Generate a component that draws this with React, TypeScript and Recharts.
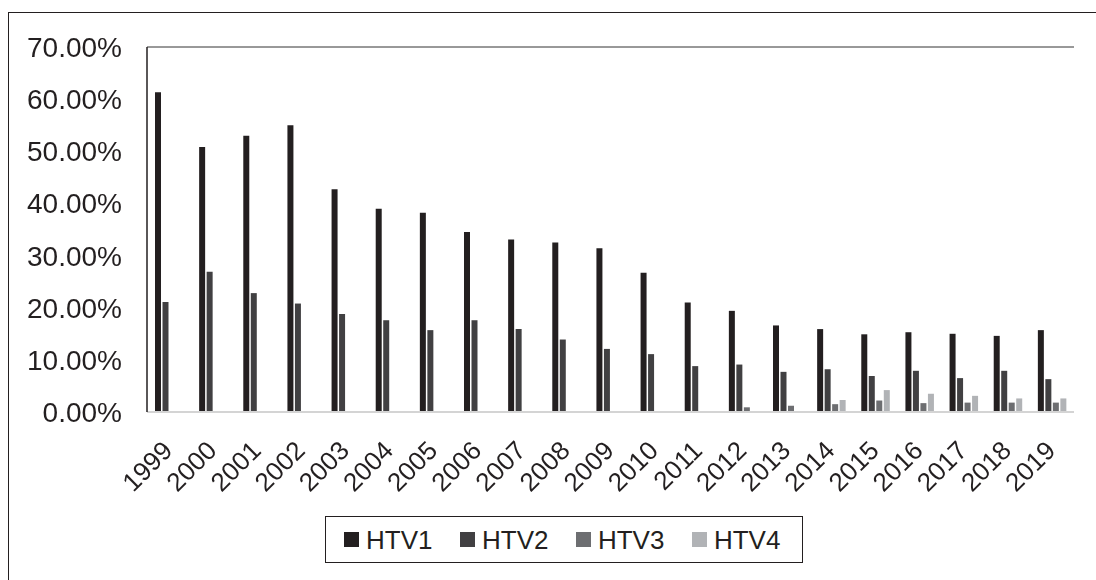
import React from 'react';
import { BarChart, Bar, XAxis, YAxis, CartesianGrid, Legend } from 'recharts';

// Share of each HTV band per year, in percent
const years = ['1999', '2000', '2001', '2002', '2003', '2004', '2005', '2006', '2007', '2008', '2009', '2010', '2011', '2012', '2013', '2014', '2015', '2016', '2017', '2018', '2019'];
const htv1 = [61.3, 50.8, 53.0, 55.0, 42.7, 39.0, 38.2, 34.5, 33.1, 32.5, 31.4, 26.7, 21.0, 19.4, 16.6, 15.9, 14.9, 15.3, 15.0, 14.6, 15.7];
const htv2 = [21.1, 26.9, 22.8, 20.8, 18.8, 17.6, 15.7, 17.6, 15.9, 13.9, 12.1, 11.1, 8.8, 9.1, 7.7, 8.2, 6.9, 7.9, 6.5, 7.9, 6.3];
const htv3 = [null, null, null, null, null, null, null, null, null, null, null, null, null, 0.9, 1.2, 1.5, 2.2, 1.7, 1.8, 1.8, 1.8];
const htv4 = [null, null, null, null, null, null, null, null, null, null, null, null, null, null, null, 2.3, 4.2, 3.5, 3.1, 2.6, 2.6];
const yTicks = [0, 10, 20, 30, 40, 50, 60, 70];

const data = years.map((year, i) => ({
  year,
  HTV1: htv1[i],
  HTV2: htv2[i],
  HTV3: htv3[i],
  HTV4: htv4[i],
}));

const FONT = '"Liberation Sans", Arial, sans-serif';
const INK = '#231f20';

const YearTick = (props: any) => {
  const { x, y, payload } = props;
  return (
    <g transform={`translate(${x + 5},${y + 40}) rotate(-45)`}>
      <text x={0} y={0} textAnchor="end" fill={INK} fontSize={26} fontFamily={FONT}>
        {payload.value}
      </text>
    </g>
  );
};

const LegendBox = (props: any) => {
  const { payload } = props;
  return (
    <div
      style={{
        boxSizing: 'border-box',
        width: 478,
        height: 47,
        border: `1.5px solid ${INK}`,
        display: 'flex',
        alignItems: 'center',
        paddingLeft: 18,
        fontFamily: FONT,
        fontSize: 26,
        color: INK,
        background: '#fff',
      }}
    >
      {(payload || []).map((entry: any) => (
        <div key={entry.value} style={{ display: 'flex', alignItems: 'center', marginRight: 27.5 }}>
          <span style={{ display: 'inline-block', width: 15, height: 15, background: entry.color, marginRight: 7 }} />
          <span style={{ lineHeight: '26px' }}>{entry.value}</span>
        </div>
      ))}
    </div>
  );
};

export default function App() {
  return (
    <div style={{ position: 'relative', width: 1080, height: 560, fontFamily: FONT }}>
      <div
        style={{
          position: 'fixed',
          left: 8,
          top: 12,
          width: 1200,
          height: 700,
          borderLeft: `1.5px solid ${INK}`,
          borderTop: `1.5px solid ${INK}`,
          pointerEvents: 'none',
        }}
      />
      <BarChart
        width={1080}
        height={560}
        data={data}
        margin={{ top: 39, right: 14, bottom: 5, left: 0 }}
        barSize={6}
        barGap={1.5}
      >
        <CartesianGrid vertical={false} stroke="#333" strokeWidth={1} />
        <XAxis
          dataKey="year"
          interval={0}
          height={104}
          tickSize={0}
          tickMargin={0}
          tickLine={false}
          axisLine={{ stroke: '#d4d4d4', strokeWidth: 2 }}
          tick={<YearTick />}
        />
        <YAxis
          yAxisId="left"
          width={139}
          domain={[0, 70]}
          ticks={yTicks}
          interval={0}
          tickSize={0}
          tickMargin={25}
          tickLine={false}
          axisLine={{ stroke: INK, strokeWidth: 1.5 }}
          tickFormatter={(v: number) => `${v.toFixed(2)}%`}
          tick={{ fill: INK, fontSize: 28, fontFamily: FONT }}
        />
        <YAxis
          yAxisId="right"
          orientation="right"
          width={0}
          domain={[0, 70]}
          tick={false}
          tickLine={false}
          axisLine={{ stroke: '#8a8a8a', strokeWidth: 1.5 }}
        />
        <Legend
          verticalAlign="bottom"
          height={47}
          content={<LegendBox />}
          wrapperStyle={{ left: 317, width: 478 }}
        />
        <Bar yAxisId="left" dataKey="HTV1" fill="#231f20" isAnimationActive={false} />
        <Bar yAxisId="left" dataKey="HTV2" fill="#414042" isAnimationActive={false} />
        <Bar yAxisId="left" dataKey="HTV3" fill="#6d6e71" isAnimationActive={false} />
        <Bar yAxisId="left" dataKey="HTV4" fill="#b1b3b6" isAnimationActive={false} />
      </BarChart>
    </div>
  );
}
